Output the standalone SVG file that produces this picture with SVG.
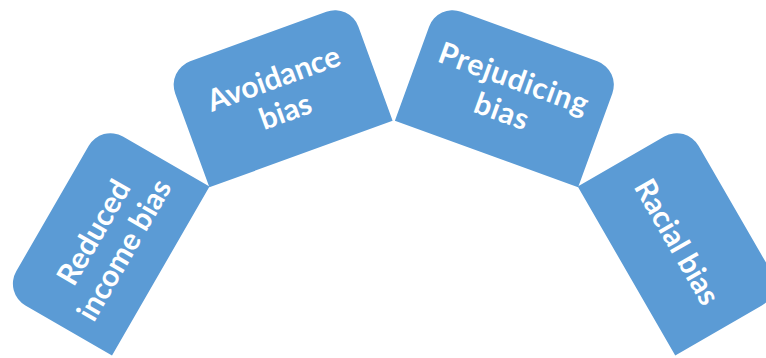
<svg xmlns="http://www.w3.org/2000/svg" xmlns:xlink="http://www.w3.org/1999/xlink" width="766" height="358" viewBox="0 0 766 358">
  <style>
    .tab { fill: #5B9BD5; }
    .lbl { fill: #FFFFFF; font-family: Lato, "Open Sans", "Liberation Sans", sans-serif; font-weight: 700; font-size: 30px; text-anchor: middle; }
  </style>
  <defs>
    <path id="tabShape" d="M -97.5,0 L 97.5,0 L 97.5,-100 A 25 25 0 0 0 72.5,-125 L -72.5,-125 A 25 25 0 0 0 -97.5,-100 Z"/>
  </defs>
  <rect width="766" height="358" fill="#FFFFFF"/>
  <g id="node-reduced-income-bias" transform="translate(160.75,271) rotate(-60)">
    <use xlink:href="#tabShape" class="tab"/>
    <text class="lbl" x="0" y="-67">Reduced</text>
    <text class="lbl" x="0" y="-32">income bias</text>
  </g>
  <g id="node-avoidance-bias" transform="translate(301,154) rotate(-20)">
    <use xlink:href="#tabShape" class="tab"/>
    <text class="lbl" x="0" y="-70">Avoidance</text>
    <text class="lbl" x="0" y="-35">bias</text>
  </g>
  <g id="node-prejudicing-bias" transform="translate(486.5,154) rotate(20)">
    <use xlink:href="#tabShape" class="tab"/>
    <text class="lbl" x="0" y="-70" letter-spacing="0.8">Prejudicing</text>
    <text class="lbl" x="0" y="-35" letter-spacing="0.8">bias</text>
  </g>
  <g id="node-racial-bias" transform="translate(626.5,271) rotate(60)">
    <use xlink:href="#tabShape" class="tab"/>
    <text class="lbl" x="0" y="-48">Racial bias</text>
  </g>
  <g id="connectors"/>
</svg>
